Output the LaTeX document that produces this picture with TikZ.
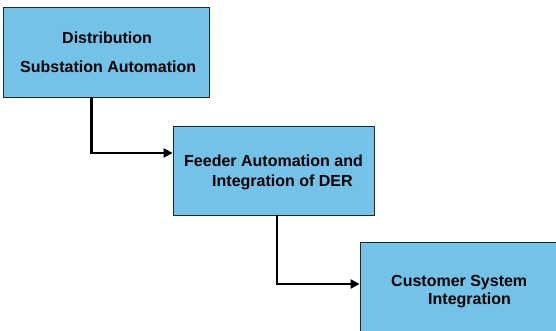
\documentclass[tikz,border=0pt]{standalone}
\usepackage{fontspec}
\setmainfont{Liberation Sans}
\usetikzlibrary{arrows.meta}
\definecolor{boxblue}{RGB}{115,194,232}
\tikzset{
  stagebox/.style={draw=black!85, line width=0.8pt, fill=boxblue, minimum width=#1, inner sep=0pt},
  boxtext/.style={anchor=base west, inner sep=0pt, font=\fontsize{16}{19}\selectfont\bfseries},
  flow/.style={line width=2.8pt, -{Triangle[length=9pt,width=9pt]}}
}
\begin{document}
\begin{tikzpicture}[x=1pt,y=-1pt]
\useasboundingbox (0,0) rectangle (556,331);
\node[stagebox=206pt, minimum height=90pt] (b1) at (106,52) {};
\node[stagebox=201pt, minimum height=89pt] (b2) at (273.5,170.5) {};
\node[stagebox=200pt, minimum height=89pt] (b3) at (460,287) {};
\node[boxtext] (t1a) at (62,44) {Distribution};
\node[boxtext] (t1b) at (20,73) {Substation Automation};
\node[boxtext] (t2a) at (184,167) {Feeder Automation and};
\node[boxtext] (t2b) at (212,186) {Integration of DER};
\node[boxtext] (t3a) at (391,286) {Customer System};
\node[boxtext] (t3b) at (428,304) {Integration};
\coordinate (k1) at (91.7,153);
\coordinate (k2) at (277,284);
\draw[flow] (k1 |- b1.south) -- (k1) -- (k1 -| b2.west);
\draw[flow] (k2 |- b2.south) -- (k2) -- (k2 -| b3.west);
\end{tikzpicture}
\end{document}
